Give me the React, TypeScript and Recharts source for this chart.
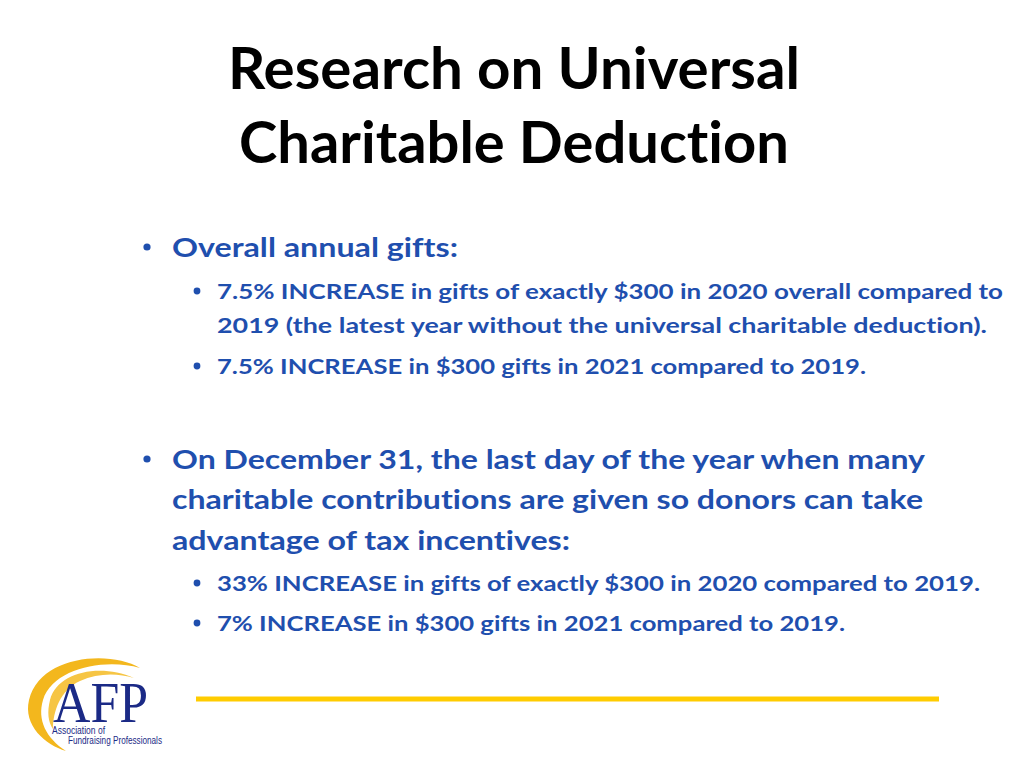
import { LineChart, Line, XAxis, YAxis } from 'recharts';

// slide text
const titleLines = ['Research on Universal', 'Charitable Deduction'];
const annualHeading = ['Overall annual gifts:'];
const annualPoints = [
  [
    '7.5% INCREASE in gifts of exactly $300 in 2020 overall compared to',
    '2019 (the latest year without the universal charitable deduction).',
  ],
  ['7.5% INCREASE in $300 gifts in 2021 compared to 2019.'],
];
const decemberHeading = [
  'On December 31, the last day of the year when many',
  'charitable contributions are given so donors can take',
  'advantage of tax incentives:',
];
const decemberPoints = [
  ['33% INCREASE in gifts of exactly $300 in 2020 compared to 2019.'],
  ['7% INCREASE in $300 gifts in 2021 compared to 2019.'],
];
const logoWords = ['AFP', 'Association of', 'Fundraising Professionals'];

// footer rule
const ruleCategories = ['start', 'end'];
const ruleValues = [1, 1];

const BLUE = '#1f4fae';
const FONT = 'Lato, "Open Sans", sans-serif';
const noLig = { fontVariantLigatures: 'none' as const, fontFeatureSettings: '"liga" 0, "clig" 0' };

type Row = { text: string; level: 1 | 2; bullet: boolean };

function buildRows(): Row[] {
  const rows: Row[] = [];
  annualHeading.forEach((t, i) => rows.push({ text: t, level: 1, bullet: i === 0 }));
  annualPoints.forEach((p) => p.forEach((t, i) => rows.push({ text: t, level: 2, bullet: i === 0 })));
  decemberHeading.forEach((t, i) => rows.push({ text: t, level: 1, bullet: i === 0 }));
  decemberPoints.forEach((p) => p.forEach((t, i) => rows.push({ text: t, level: 2, bullet: i === 0 })));
  return rows;
}

// baseline / width of each row, in order
const rowLayout = [
  [257, 286],
  [299, 786],
  [333, 770],
  [374, 649],
  [469, 753],
  [509, 751],
  [550, 398],
  [591, 763],
  [631, 628],
];

function Slide() {
  const rows = buildRows();
  return (
    <g>
      {titleLines.map((t, i) => (
        <text
          key={t}
          x={514}
          y={i === 0 ? 89 : 163}
          textAnchor="middle"
          fontFamily={FONT}
          fontWeight={700}
          fontSize={57}
          fill="#000"
          textLength={i === 0 ? 572 : 550}
          lengthAdjust="spacingAndGlyphs"
          style={noLig}
        >
          {t}
        </text>
      ))}

      {rows.map((r, i) => {
        const [y, w] = rowLayout[i];
        const x = r.level === 1 ? 172 : 217;
        const bx = r.level === 1 ? 147 : 197;
        const size = r.level === 1 ? 26 : 21;
        return (
          <g key={i}>
            {r.bullet && (
              <circle cx={bx} cy={y - (r.level === 1 ? 10 : 8)} r={r.level === 1 ? 3.6 : 3.4} fill={BLUE} />
            )}
            <text
              x={x}
              y={y}
              fontFamily={FONT}
              fontWeight={700}
              fontSize={size}
              fill={BLUE}
              textLength={w}
              lengthAdjust="spacingAndGlyphs"
              style={noLig}
            >
              {r.text}
            </text>
          </g>
        );
      })}

      {/* AFP logo */}
      <path
        d="M140 668 C110 650 40 655 29 700 C23 725 45 745 66 751 C46 738 37 720 43 700 C53 668 105 658 140 668 Z"
        fill="#f3b71d"
      />
      <path
        d="M134 678 C100 663 57 672 50 700 C47 712 48 722 53 729 C53 712 60 690 80 681 C98 673 117 673 134 678 Z"
        fill="#f6c544"
      />
      <text
        x={53}
        y={722}
        fontFamily='"Liberation Serif", serif'
        fontSize={58}
        fill="#1b2a86"
        textLength={95}
        lengthAdjust="spacingAndGlyphs"
      >
        {logoWords[0]}
      </text>
      <text
        x={52}
        y={734}
        fontFamily='"Liberation Sans Narrow", "Liberation Sans", sans-serif'
        fontSize={10}
        fill="#1b2a86"
        textLength={53}
        lengthAdjust="spacingAndGlyphs"
      >
        {logoWords[1]}
      </text>
      <text
        x={68}
        y={744}
        fontFamily='"Liberation Sans Narrow", "Liberation Sans", sans-serif'
        fontSize={10}
        fill="#1b2a86"
        textLength={94}
        lengthAdjust="spacingAndGlyphs"
      >
        {logoWords[2]}
      </text>
    </g>
  );
}

export default function App() {
  const ruleData = ruleCategories.map((c, i) => ({ at: c, rule: ruleValues[i] }));
  return (
    <div style={{ width: 1024, height: 768, background: '#fff', position: 'relative' }}>
      <style>{'body{margin:0;}'}</style>
      <LineChart
        width={1024}
        height={768}
        data={ruleData}
        margin={{ top: 689, right: 85, bottom: 59, left: 196 }}
      >
        <XAxis dataKey="at" hide />
        <YAxis hide domain={[0, 2]} />
        <Line
          dataKey="rule"
          stroke="#ffcc00"
          strokeWidth={5}
          dot={false}
          isAnimationActive={false}
        />
        <Slide />
      </LineChart>
    </div>
  );
}
